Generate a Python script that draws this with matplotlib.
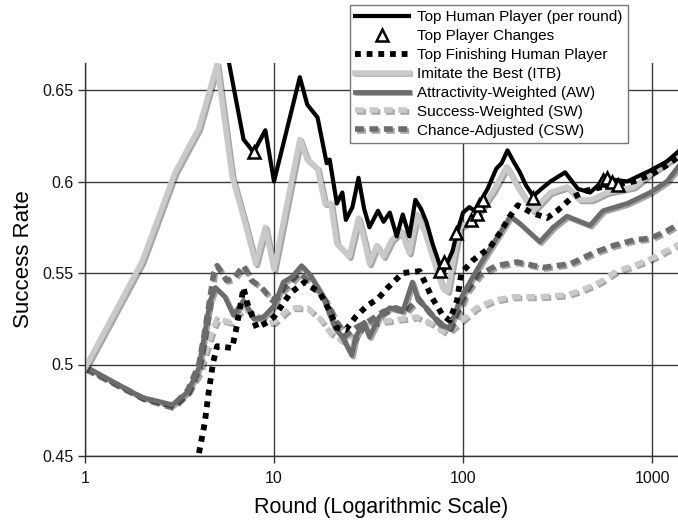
import matplotlib
matplotlib.use("Agg")
import matplotlib.pyplot as plt
from matplotlib import patheffects as pe

plt.rcParams['font.family'] = ['Liberation Sans', 'DejaVu Sans']

# ---- data ----
top_rounds = [5, 5.8, 6.9, 7.8, 9, 10, 13.7, 15, 17, 19, 19.7, 21.5, 23, 24, 26, 28, 30, 32,
              35.5, 38, 41, 44.6, 48, 52, 56, 60, 64, 69, 75, 78, 83, 88, 93, 100, 108,
              115, 122, 135, 150, 160, 172, 185, 200, 215, 235, 260, 290, 347, 405, 470,
              520, 550, 620, 740, 850, 980, 1200, 1400]
top_vals = [0.70, 0.664, 0.623, 0.616, 0.628, 0.600, 0.657, 0.642, 0.635, 0.610, 0.612, 0.588,
            0.594, 0.579, 0.586, 0.602, 0.585, 0.575, 0.584, 0.578, 0.583, 0.570, 0.582,
            0.570, 0.590, 0.585, 0.578, 0.566, 0.555, 0.549, 0.556, 0.562, 0.572, 0.583,
            0.586, 0.584, 0.588, 0.596, 0.607, 0.610, 0.617, 0.611, 0.605, 0.598, 0.592,
            0.596, 0.600, 0.605, 0.596, 0.594, 0.598, 0.602, 0.601, 0.600, 0.603, 0.606,
            0.611, 0.617]

change_rounds = [7.8, 76, 79, 92, 110, 118, 122, 128, 235, 550, 580, 615, 660]
change_vals = [0.616, 0.551, 0.556, 0.572, 0.579, 0.582, 0.587, 0.590, 0.591, 0.601,
               0.602, 0.600, 0.598]

fin_rounds = [3, 4, 4.3, 4.5, 4.76, 5, 6, 6.3, 6.9, 7.2, 8.1, 9.2, 10, 12.2, 14.5, 17.5,
              19.8, 21.5, 24, 27, 31, 35.5, 40, 48, 59, 69, 78, 85, 93, 98, 113, 139, 157,
              177, 195, 230, 278, 315, 375, 450, 600, 800, 1000, 1200, 1400]
fin_vals = [0.40, 0.451, 0.468, 0.484, 0.501, 0.510, 0.509, 0.519, 0.542, 0.534, 0.520,
            0.523, 0.526, 0.539, 0.545, 0.539, 0.529, 0.520, 0.519, 0.526, 0.532, 0.536,
            0.542, 0.550, 0.551, 0.536, 0.527, 0.524, 0.535, 0.550, 0.557, 0.564, 0.572,
            0.581, 0.587, 0.583, 0.580, 0.584, 0.591, 0.595, 0.598, 0.600, 0.604, 0.609,
            0.614]

itb_rounds = [1, 2, 3, 4, 5, 6, 7, 8, 9, 10, 13.7, 15, 17, 18.6, 20, 21.5, 23, 25, 28, 30,
              32, 35, 38, 42, 47, 52, 57, 63, 72, 78, 83, 90, 96, 110, 125, 145, 170, 200,
              235, 290, 355, 415, 480, 580, 800, 1000, 1400]
itb_vals = [0.498, 0.556, 0.605, 0.629, 0.664, 0.603, 0.578, 0.555, 0.575, 0.552, 0.623,
            0.612, 0.607, 0.588, 0.588, 0.566, 0.563, 0.559, 0.580, 0.568, 0.555, 0.565,
            0.559, 0.568, 0.573, 0.561, 0.582, 0.572, 0.553, 0.542, 0.540, 0.560, 0.575,
            0.578, 0.585, 0.595, 0.608, 0.595, 0.584, 0.594, 0.597, 0.590, 0.590, 0.594,
            0.597, 0.605, 0.615]

aw_rounds = [1, 2, 2.9, 3.5, 4, 4.6, 4.9, 5.5, 6.1, 6.9, 7.8, 8.8, 10, 11.2, 12.5, 14, 15.5,
             18, 21, 23, 25.8, 27, 30, 32, 36, 41, 48, 54, 58, 64, 75, 85, 96, 110, 127,
             157, 178, 200, 255, 300, 355, 470, 550, 740, 980, 1200, 1400]
aw_vals = [0.499, 0.482, 0.478, 0.485, 0.498, 0.535, 0.542, 0.537, 0.527, 0.535, 0.525,
           0.526, 0.532, 0.545, 0.548, 0.554, 0.549, 0.538, 0.520, 0.515, 0.505, 0.515,
           0.523, 0.515, 0.526, 0.531, 0.529, 0.545, 0.535, 0.531, 0.522, 0.520, 0.535,
           0.546, 0.557, 0.572, 0.581, 0.577, 0.567, 0.575, 0.581, 0.576, 0.584, 0.588,
           0.594, 0.600, 0.609]

sw_rounds = [1, 2, 2.9, 3.5, 4, 4.7, 5, 5.9, 6.9, 8, 9.2, 10, 12.2, 15, 17.5, 20, 23, 25.8,
             30, 35, 41, 48, 57, 69, 82, 96, 118, 145, 184, 255, 355, 433, 530, 650, 800,
             1000, 1400]
sw_vals = [0.498, 0.482, 0.477, 0.485, 0.495, 0.518, 0.525, 0.523, 0.531, 0.527, 0.523,
           0.523, 0.531, 0.531, 0.525, 0.517, 0.513, 0.512, 0.523, 0.523, 0.524, 0.525,
           0.526, 0.522, 0.517, 0.523, 0.531, 0.535, 0.537, 0.537, 0.538, 0.541, 0.545,
           0.551, 0.554, 0.558, 0.566]

csw_rounds = [1, 2, 2.9, 3.5, 4, 4.2, 4.5, 4.8, 5, 5.6, 6.1, 6.9, 7.6, 8.6, 9.8, 11.5, 13.7,
              16.5, 19, 21.5, 24, 27, 32, 38, 44, 50, 58, 67, 75, 85, 96, 105, 122, 150,
              193, 265, 370, 490, 625, 800, 980, 1200, 1400]
csw_vals = [0.498, 0.482, 0.477, 0.486, 0.500, 0.512, 0.531, 0.550, 0.554, 0.546, 0.547,
            0.554, 0.546, 0.542, 0.535, 0.542, 0.550, 0.542, 0.534, 0.523, 0.516, 0.520,
            0.524, 0.529, 0.531, 0.529, 0.536, 0.528, 0.523, 0.520, 0.530, 0.540, 0.549,
            0.554, 0.556, 0.553, 0.555, 0.561, 0.565, 0.568, 0.569, 0.573, 0.577]

x_ticks = [1, 10, 100, 1000]
x_tick_labels = ['1', '10', '100', '1000']
y_ticks = [0.45, 0.5, 0.55, 0.6, 0.65]
y_tick_labels = ['0.45', '0.5', '0.55', '0.6', '0.65']

# ---- figure ----
fig = plt.figure(figsize=(6.78, 5.2), dpi=100)
ax = fig.add_axes([85 / 678, 64 / 520, 593 / 678, 393 / 520])

shadow = [pe.SimpleLineShadow(offset=(1.2, -1.2), shadow_color='black', alpha=0.35), pe.Normal()]

light = '#c9c9c9'
dark = '#6c6c6c'

l_sw, = ax.plot(sw_rounds, sw_vals, color=light, lw=4.0, ls=(0, (1.6, 1.0)),
                dash_capstyle='butt', path_effects=shadow, zorder=2)
l_csw, = ax.plot(csw_rounds, csw_vals, color=dark, lw=4.0, ls=(0, (1.6, 1.0)),
                 dash_capstyle='butt', path_effects=shadow, zorder=2.1)
l_aw, = ax.plot(aw_rounds, aw_vals, color=dark, lw=3.5, path_effects=shadow, zorder=2.2)
l_itb, = ax.plot(itb_rounds, itb_vals, color=light, lw=4.0, path_effects=shadow, zorder=2.3)
l_fin, = ax.plot(fin_rounds, fin_vals, color='black', lw=4.2, ls=(0, (1.0, 1.0)),
                 dash_capstyle='butt', zorder=2.4)
l_top, = ax.plot(top_rounds, top_vals, color='black', lw=3.0, zorder=2.5)
l_chg, = ax.plot(change_rounds, change_vals, ls='none', marker='^', ms=8,
                 mfc='white', mec='black', mew=1.8, zorder=2.6)

ax.set_xscale('log')
ax.set_xlim(1, 10 ** (593 / 189))
ax.set_ylim(0.45, 0.45 + 393 * 0.05 / 91.5)
ax.set_xticks(x_ticks)
ax.set_xticklabels(x_tick_labels)
ax.xaxis.set_minor_locator(matplotlib.ticker.NullLocator())
ax.set_yticks(y_ticks)
ax.set_yticklabels(y_tick_labels)
ax.tick_params(axis='both', labelsize=11.5, direction='out', length=5, width=1,
               color='#333333', labelcolor='#111111')
ax.tick_params(axis='x', pad=6)
ax.tick_params(axis='y', pad=3)
ax.grid(True, which='major', color='#3a3a3a', lw=1.0)
ax.set_axisbelow(True)
for s in ['top', 'right']:
    ax.spines[s].set_visible(False)
for s in ['left', 'bottom']:
    ax.spines[s].set_color('#333333')
    ax.spines[s].set_linewidth(1.0)

ax.set_xlabel('Round (Logarithmic Scale)', fontsize=15.5, labelpad=8)
ax.set_ylabel('Success Rate', fontsize=16, labelpad=6)

handles = [l_top, l_chg, l_fin, l_itb, l_aw, l_sw, l_csw]
labels = ['Top Human Player (per round)', 'Top Player Changes', 'Top Finishing Human Player',
          'Imitate the Best (ITB)', 'Attractivity-Weighted (AW)', 'Success-Weighted (SW)',
          'Chance-Adjusted (CSW)']
leg = fig.legend(handles, labels, loc='upper left', bbox_to_anchor=(350 / 678, 1 - 5 / 520),
                 fontsize=11, frameon=True, fancybox=False, edgecolor='#777777',
                 framealpha=1.0, handlelength=3.5, handletextpad=0.55, borderpad=0.35,
                 labelspacing=0.32, borderaxespad=0)
leg.get_frame().set_linewidth(1.0)

fig.savefig('out.png', dpi=100)
